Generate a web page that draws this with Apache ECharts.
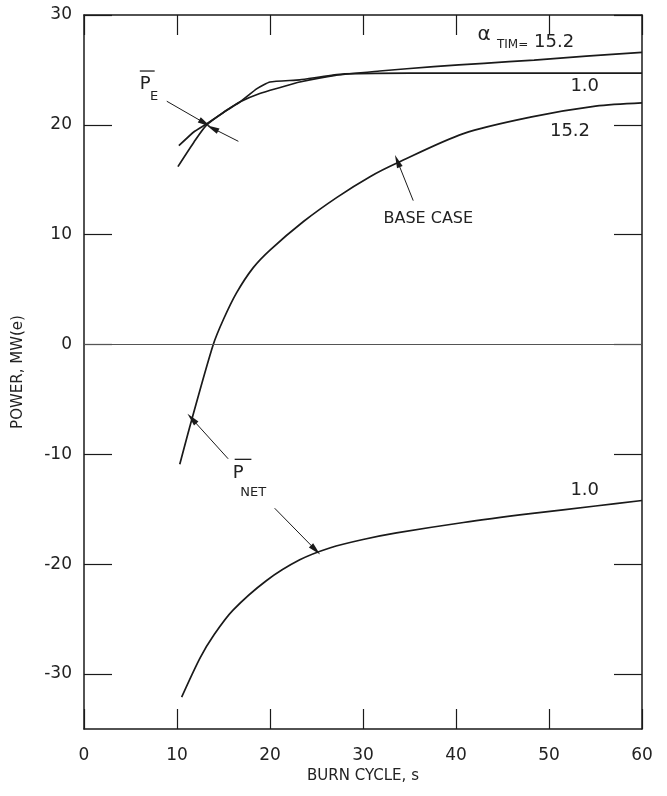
<!DOCTYPE html>
<html><head><meta charset="utf-8">
<script src="https://cdn.jsdelivr.net/npm/echarts@6/dist/echarts.min.js"></script>
<style>html,body{margin:0;padding:0;background:#fff}#c{width:667px;height:796px}</style>
</head><body><div id="c"></div>
<script>
// ---- data ----
const xTicks = [0, 10, 20, 30, 40, 50, 60];
const yTicks = [-30, -20, -10, 0, 10, 20, 30];

// P_E, alpha_TIM = 15.2
const peHighBurn  = [10.1, 11.8, 13.2, 15.3, 16.8, 18.9, 21.1, 23.2, 27.0, 31.8, 37.6, 43.0, 48.4, 54.0, 60.0];
const peHighPower = [16.2, 18.4, 20.0, 21.3, 22.1, 22.85, 23.4, 23.9, 24.5, 24.9, 25.3, 25.6, 25.9, 26.25, 26.6];
// P_E, alpha_TIM = 1.0
const peLowBurn  = [10.2, 11.8, 13.2, 15.3, 16.8, 18.6, 20.0, 23.2, 27.5, 35.0, 45.0, 60.0];
const peLowPower = [18.1, 19.35, 20.1, 21.3, 22.1, 23.3, 23.9, 24.1, 24.6, 24.7, 24.7, 24.7];
// P_NET, alpha_TIM = 15.2 (base case)
const netHighBurn  = [10.3, 11.6, 13.9, 15.0, 16.4, 18.2, 20.0, 23.6, 27.2, 30.8, 33.6, 40.8, 48.0, 55.0, 60.0];
const netHighPower = [-10.9, -6.8, 0.0, 2.3, 4.7, 7.0, 8.6, 11.2, 13.4, 15.3, 16.5, 19.2, 20.7, 21.7, 22.0];
// P_NET, alpha_TIM = 1.0
const netLowBurn  = [10.5, 12.5, 14.0, 16.0, 19.6, 23.2, 26.5, 30.0, 33.6, 40.8, 48.0, 55.0, 60.0];
const netLowPower = [-32.1, -28.5, -26.4, -24.2, -21.5, -19.6, -18.5, -17.75, -17.15, -16.2, -15.4, -14.7, -14.2];

// annotation texts (anchored in data coordinates: left edge, vertical centre)
const noteTexts = ['α', 'TIM=', '15.2', '1.0', '15.2', 'BASE CASE', '1.0', 'P', 'E', 'P', 'NET'];
const noteBurn  = [42.3, 44.4, 48.4, 52.3, 50.1, 32.2, 52.3, 6.0, 7.1, 16.0, 16.8];
const notePower = [28.2, 27.25, 27.5, 23.5, 19.4, 11.45, -13.3, 23.7, 22.6, -11.75, -13.45];
const noteSize  = [20, 12, 18, 18, 18, 16, 18, 18, 13, 18, 13];
// overbars on P
const barFrom = [[6.0, 24.9], [16.2, -10.45]];
const barTo   = [[7.6, 24.9], [18.0, -10.45]];
// arrows: tail -> head
const arrowTail = [[8.9, 22.15], [16.6, 18.5], [35.4, 13.1], [15.5, -10.4], [20.5, -14.9]];
const arrowHead = [[13.0, 20.15], [13.8, 19.7], [33.7, 16.7], [11.6, -6.75], [24.9, -18.7]];

const FONT = 'DejaVu Sans';
const INK = '#1a1a1a';
const pairs = (xs, ys) => xs.map((x, i) => [x, ys[i]]);

const chart = echarts.init(document.getElementById('c'), null, {renderer: 'canvas'});

const lineBase = {
  type: 'line', showSymbol: false, smooth: 0.3,
  lineStyle: {color: INK, width: 1.7}, silent: true, animation: false, z: 3
};

const axisCommonX = {
  type: 'value', min: 0, max: 60, interval: 10,
  axisLine: {show: true, onZero: false, lineStyle: {color: INK, width: 1.5}},
  axisTick: {show: true, inside: true, length: 20, lineStyle: {color: INK, width: 1.2}},
  splitLine: {show: false}
};
const axisCommonY = {
  type: 'value', min: -35, max: 30, interval: 5,
  axisLine: {show: true, onZero: false, lineStyle: {color: INK, width: 1.5}},
  axisTick: {show: true, inside: true, length: 28, customValues: yTicks, lineStyle: {color: INK, width: 1.2}},
  splitLine: {show: false}
};

chart.setOption({
  animation: false,
  backgroundColor: '#fff',
  grid: {left: 84, right: 25, top: 15, bottom: 67, containLabel: false},
  xAxis: [
    Object.assign({}, axisCommonX, {
      position: 'bottom',
      axisLabel: {show: true, customValues: xTicks, fontSize: 17, fontFamily: FONT, color: '#222', margin: 18},
      name: 'BURN CYCLE, s', nameLocation: 'middle', nameGap: 38,
      nameTextStyle: {fontSize: 15, fontFamily: FONT, color: '#222'}
    }),
    Object.assign({}, axisCommonX, {position: 'top', axisLabel: {show: false}})
  ],
  yAxis: [
    Object.assign({}, axisCommonY, {
      position: 'left',
      axisLabel: {show: true, customValues: yTicks, fontSize: 17, fontFamily: FONT, color: '#222', margin: 12},
      name: 'POWER, MW(e)', nameLocation: 'middle', nameGap: 58, nameRotate: 90,
      nameTextStyle: {fontSize: 15, fontFamily: FONT, color: '#222'}
    }),
    Object.assign({}, axisCommonY, {position: 'right', axisLabel: {show: false}})
  ],
  series: [
    Object.assign({}, lineBase, {name: 'P_E 15.2', smooth: 0.25, data: pairs(peHighBurn, peHighPower)}),
    Object.assign({}, lineBase, {name: 'P_E 1.0', smooth: 0.15, data: pairs(peLowBurn, peLowPower)}),
    Object.assign({}, lineBase, {
      name: 'P_NET 15.2', data: pairs(netHighBurn, netHighPower),
      markLine: {
        silent: true, animation: false, symbol: ['none', 'triangle'], symbolSize: [6, 13],
        label: {show: false},
        lineStyle: {color: INK, width: 1, type: 'solid'},
        data: arrowTail.map((t, i) => [{coord: t}, {coord: arrowHead[i]}])
      }
    }),
    Object.assign({}, lineBase, {
      name: 'P_NET 1.0', data: pairs(netLowBurn, netLowPower),
      markLine: {
        silent: true, animation: false, symbol: ['none', 'none'],
        label: {show: false},
        lineStyle: {color: '#555', width: 1, type: 'solid'},
        data: [[{coord: [0, 0]}, {coord: [60, 0]}]]
      }
    })
  ]
});

// annotations positioned through the chart's own coordinate conversion
const toPx = (p) => chart.convertToPixel({gridIndex: 0}, p);
const graphics = [];
noteTexts.forEach((t, i) => {
  const p = toPx([noteBurn[i], notePower[i]]);
  graphics.push({
    type: 'text', x: p[0], y: p[1], silent: true, z: 10,
    style: {text: t, fontSize: noteSize[i], fontFamily: FONT, fill: '#222', align: 'left', verticalAlign: 'middle'}
  });
});
barFrom.forEach((b, i) => {
  const a = toPx(b), c = toPx(barTo[i]);
  graphics.push({type: 'line', silent: true, z: 10,
    shape: {x1: a[0], y1: a[1], x2: c[0], y2: c[1]}, style: {stroke: '#222', lineWidth: 1.3}});
});
chart.setOption({graphic: graphics});
</script>
</body></html>
